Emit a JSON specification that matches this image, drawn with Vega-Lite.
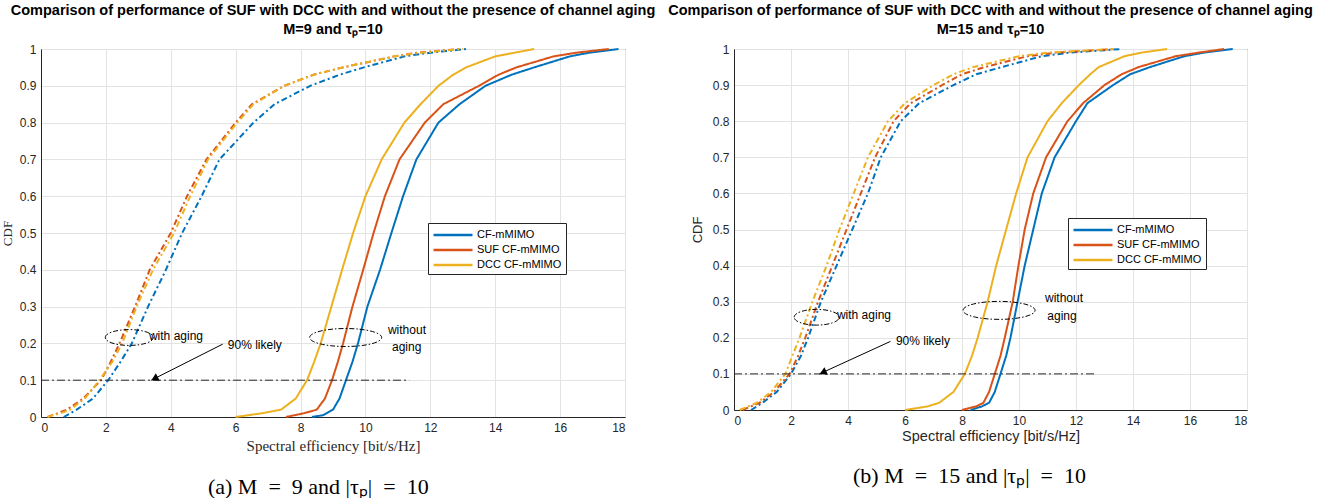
{
"$schema": "https://vega.github.io/schema/vega-lite/v6.json",
"background": "white",
"padding": {"left": 0, "top": 2, "right": 0, "bottom": 0},
"spacing": 11,
"config": {
  "font": "Liberation Sans",
  "view": {"stroke": "#262626", "strokeWidth": 1},
  "axis": {"grid": true, "gridColor": "#e3e3e3", "gridWidth": 1, "domainColor": "#262626", "tickColor": "#262626", "ticks": false, "labelPadding": 5, "labelOverlap": false, "labelColor": "#262626", "labelFont": "Liberation Sans", "labelFontSize": 12, "titleColor": "#262626", "titleFontWeight": "normal", "titleFontSize": 12},
  "legend": {"orient": "none", "title": null, "symbolType": "M-3,0H3", "symbolSize": 169, "symbolOffset": 13, "symbolStrokeWidth": 2.5, "labelFontSize": 11, "labelFont": "Liberation Sans", "labelColor": "#000", "fillColor": "white", "strokeColor": "#262626", "padding": 4, "rowPadding": 2, "labelOffset": 16}
},
"datasets": {
"A": [
{"scheme":"CF-mMIMO","aging":"without","x":8.35,"y":0},{"scheme":"CF-mMIMO","aging":"without","x":8.7,"y":0.005},{"scheme":"CF-mMIMO","aging":"without","x":9.0,"y":0.02},{"scheme":"CF-mMIMO","aging":"without","x":9.2,"y":0.05},{"scheme":"CF-mMIMO","aging":"without","x":9.4,"y":0.1},{"scheme":"CF-mMIMO","aging":"without","x":9.6,"y":0.15},{"scheme":"CF-mMIMO","aging":"without","x":9.77,"y":0.2},{"scheme":"CF-mMIMO","aging":"without","x":10.06,"y":0.3},{"scheme":"CF-mMIMO","aging":"without","x":10.45,"y":0.4},{"scheme":"CF-mMIMO","aging":"without","x":10.8,"y":0.5},{"scheme":"CF-mMIMO","aging":"without","x":11.16,"y":0.6},{"scheme":"CF-mMIMO","aging":"without","x":11.57,"y":0.7},{"scheme":"CF-mMIMO","aging":"without","x":12.25,"y":0.8},{"scheme":"CF-mMIMO","aging":"without","x":12.9,"y":0.85},{"scheme":"CF-mMIMO","aging":"without","x":13.7,"y":0.9},{"scheme":"CF-mMIMO","aging":"without","x":14.5,"y":0.93},{"scheme":"CF-mMIMO","aging":"without","x":15.2,"y":0.95},{"scheme":"CF-mMIMO","aging":"without","x":16.3,"y":0.98},{"scheme":"CF-mMIMO","aging":"without","x":16.9,"y":0.99},{"scheme":"CF-mMIMO","aging":"without","x":17.8,"y":1},
{"scheme":"SUF CF-mMIMO","aging":"without","x":7.55,"y":0},{"scheme":"SUF CF-mMIMO","aging":"without","x":8.1,"y":0.01},{"scheme":"SUF CF-mMIMO","aging":"without","x":8.5,"y":0.02},{"scheme":"SUF CF-mMIMO","aging":"without","x":8.75,"y":0.05},{"scheme":"SUF CF-mMIMO","aging":"without","x":8.97,"y":0.1},{"scheme":"SUF CF-mMIMO","aging":"without","x":9.15,"y":0.15},{"scheme":"SUF CF-mMIMO","aging":"without","x":9.31,"y":0.2},{"scheme":"SUF CF-mMIMO","aging":"without","x":9.6,"y":0.3},{"scheme":"SUF CF-mMIMO","aging":"without","x":9.93,"y":0.4},{"scheme":"SUF CF-mMIMO","aging":"without","x":10.25,"y":0.5},{"scheme":"SUF CF-mMIMO","aging":"without","x":10.6,"y":0.6},{"scheme":"SUF CF-mMIMO","aging":"without","x":11.05,"y":0.7},{"scheme":"SUF CF-mMIMO","aging":"without","x":11.83,"y":0.8},{"scheme":"SUF CF-mMIMO","aging":"without","x":12.4,"y":0.85},{"scheme":"SUF CF-mMIMO","aging":"without","x":13.5,"y":0.9},{"scheme":"SUF CF-mMIMO","aging":"without","x":14.1,"y":0.93},{"scheme":"SUF CF-mMIMO","aging":"without","x":14.65,"y":0.95},{"scheme":"SUF CF-mMIMO","aging":"without","x":15.8,"y":0.98},{"scheme":"SUF CF-mMIMO","aging":"without","x":16.5,"y":0.99},{"scheme":"SUF CF-mMIMO","aging":"without","x":17.5,"y":1},
{"scheme":"DCC CF-mMIMO","aging":"without","x":6.0,"y":0},{"scheme":"DCC CF-mMIMO","aging":"without","x":6.8,"y":0.01},{"scheme":"DCC CF-mMIMO","aging":"without","x":7.4,"y":0.02},{"scheme":"DCC CF-mMIMO","aging":"without","x":7.85,"y":0.05},{"scheme":"DCC CF-mMIMO","aging":"without","x":8.2,"y":0.1},{"scheme":"DCC CF-mMIMO","aging":"without","x":8.42,"y":0.15},{"scheme":"DCC CF-mMIMO","aging":"without","x":8.62,"y":0.2},{"scheme":"DCC CF-mMIMO","aging":"without","x":8.95,"y":0.3},{"scheme":"DCC CF-mMIMO","aging":"without","x":9.28,"y":0.4},{"scheme":"DCC CF-mMIMO","aging":"without","x":9.62,"y":0.5},{"scheme":"DCC CF-mMIMO","aging":"without","x":10.0,"y":0.6},{"scheme":"DCC CF-mMIMO","aging":"without","x":10.5,"y":0.7},{"scheme":"DCC CF-mMIMO","aging":"without","x":11.2,"y":0.8},{"scheme":"DCC CF-mMIMO","aging":"without","x":11.7,"y":0.85},{"scheme":"DCC CF-mMIMO","aging":"without","x":12.25,"y":0.9},{"scheme":"DCC CF-mMIMO","aging":"without","x":12.7,"y":0.93},{"scheme":"DCC CF-mMIMO","aging":"without","x":13.1,"y":0.95},{"scheme":"DCC CF-mMIMO","aging":"without","x":14.0,"y":0.98},{"scheme":"DCC CF-mMIMO","aging":"without","x":14.6,"y":0.99},{"scheme":"DCC CF-mMIMO","aging":"without","x":15.2,"y":1},
{"scheme":"CF-mMIMO","aging":"with","x":0.7,"y":0},{"scheme":"CF-mMIMO","aging":"with","x":0.9,"y":0.01},{"scheme":"CF-mMIMO","aging":"with","x":1.1,"y":0.02},{"scheme":"CF-mMIMO","aging":"with","x":1.6,"y":0.05},{"scheme":"CF-mMIMO","aging":"with","x":2.07,"y":0.1},{"scheme":"CF-mMIMO","aging":"with","x":2.45,"y":0.15},{"scheme":"CF-mMIMO","aging":"with","x":2.8,"y":0.2},{"scheme":"CF-mMIMO","aging":"with","x":3.3,"y":0.3},{"scheme":"CF-mMIMO","aging":"with","x":3.85,"y":0.4},{"scheme":"CF-mMIMO","aging":"with","x":4.35,"y":0.5},{"scheme":"CF-mMIMO","aging":"with","x":4.95,"y":0.6},{"scheme":"CF-mMIMO","aging":"with","x":5.5,"y":0.7},{"scheme":"CF-mMIMO","aging":"with","x":6.55,"y":0.8},{"scheme":"CF-mMIMO","aging":"with","x":7.2,"y":0.85},{"scheme":"CF-mMIMO","aging":"with","x":8.3,"y":0.9},{"scheme":"CF-mMIMO","aging":"with","x":9.2,"y":0.93},{"scheme":"CF-mMIMO","aging":"with","x":9.95,"y":0.95},{"scheme":"CF-mMIMO","aging":"with","x":11.2,"y":0.98},{"scheme":"CF-mMIMO","aging":"with","x":12.0,"y":0.99},{"scheme":"CF-mMIMO","aging":"with","x":13.1,"y":1},
{"scheme":"SUF CF-mMIMO","aging":"with","x":0.2,"y":0},{"scheme":"SUF CF-mMIMO","aging":"with","x":0.5,"y":0.01},{"scheme":"SUF CF-mMIMO","aging":"with","x":0.8,"y":0.02},{"scheme":"SUF CF-mMIMO","aging":"with","x":1.3,"y":0.05},{"scheme":"SUF CF-mMIMO","aging":"with","x":1.85,"y":0.1},{"scheme":"SUF CF-mMIMO","aging":"with","x":2.15,"y":0.15},{"scheme":"SUF CF-mMIMO","aging":"with","x":2.42,"y":0.2},{"scheme":"SUF CF-mMIMO","aging":"with","x":2.9,"y":0.3},{"scheme":"SUF CF-mMIMO","aging":"with","x":3.35,"y":0.4},{"scheme":"SUF CF-mMIMO","aging":"with","x":4.0,"y":0.5},{"scheme":"SUF CF-mMIMO","aging":"with","x":4.5,"y":0.6},{"scheme":"SUF CF-mMIMO","aging":"with","x":5.1,"y":0.7},{"scheme":"SUF CF-mMIMO","aging":"with","x":6.0,"y":0.8},{"scheme":"SUF CF-mMIMO","aging":"with","x":6.5,"y":0.85},{"scheme":"SUF CF-mMIMO","aging":"with","x":7.5,"y":0.9},{"scheme":"SUF CF-mMIMO","aging":"with","x":8.4,"y":0.93},{"scheme":"SUF CF-mMIMO","aging":"with","x":9.3,"y":0.95},{"scheme":"SUF CF-mMIMO","aging":"with","x":10.9,"y":0.98},{"scheme":"SUF CF-mMIMO","aging":"with","x":11.6,"y":0.99},{"scheme":"SUF CF-mMIMO","aging":"with","x":12.9,"y":1},
{"scheme":"DCC CF-mMIMO","aging":"with","x":0.2,"y":0},{"scheme":"DCC CF-mMIMO","aging":"with","x":0.6,"y":0.01},{"scheme":"DCC CF-mMIMO","aging":"with","x":0.9,"y":0.02},{"scheme":"DCC CF-mMIMO","aging":"with","x":1.35,"y":0.05},{"scheme":"DCC CF-mMIMO","aging":"with","x":1.8,"y":0.1},{"scheme":"DCC CF-mMIMO","aging":"with","x":2.2,"y":0.15},{"scheme":"DCC CF-mMIMO","aging":"with","x":2.5,"y":0.2},{"scheme":"DCC CF-mMIMO","aging":"with","x":2.95,"y":0.3},{"scheme":"DCC CF-mMIMO","aging":"with","x":3.45,"y":0.4},{"scheme":"DCC CF-mMIMO","aging":"with","x":4.1,"y":0.5},{"scheme":"DCC CF-mMIMO","aging":"with","x":4.6,"y":0.6},{"scheme":"DCC CF-mMIMO","aging":"with","x":5.15,"y":0.7},{"scheme":"DCC CF-mMIMO","aging":"with","x":6.05,"y":0.8},{"scheme":"DCC CF-mMIMO","aging":"with","x":6.55,"y":0.85},{"scheme":"DCC CF-mMIMO","aging":"with","x":7.5,"y":0.9},{"scheme":"DCC CF-mMIMO","aging":"with","x":8.4,"y":0.93},{"scheme":"DCC CF-mMIMO","aging":"with","x":9.3,"y":0.95},{"scheme":"DCC CF-mMIMO","aging":"with","x":10.9,"y":0.98},{"scheme":"DCC CF-mMIMO","aging":"with","x":11.7,"y":0.99},{"scheme":"DCC CF-mMIMO","aging":"with","x":13.0,"y":1}
],
"B": [
{"scheme":"CF-mMIMO","aging":"without","x":8.3,"y":0},{"scheme":"CF-mMIMO","aging":"without","x":8.7,"y":0.01},{"scheme":"CF-mMIMO","aging":"without","x":8.95,"y":0.02},{"scheme":"CF-mMIMO","aging":"without","x":9.15,"y":0.05},{"scheme":"CF-mMIMO","aging":"without","x":9.35,"y":0.1},{"scheme":"CF-mMIMO","aging":"without","x":9.55,"y":0.15},{"scheme":"CF-mMIMO","aging":"without","x":9.7,"y":0.2},{"scheme":"CF-mMIMO","aging":"without","x":9.95,"y":0.3},{"scheme":"CF-mMIMO","aging":"without","x":10.2,"y":0.4},{"scheme":"CF-mMIMO","aging":"without","x":10.5,"y":0.5},{"scheme":"CF-mMIMO","aging":"without","x":10.8,"y":0.6},{"scheme":"CF-mMIMO","aging":"without","x":11.25,"y":0.7},{"scheme":"CF-mMIMO","aging":"without","x":12.0,"y":0.8},{"scheme":"CF-mMIMO","aging":"without","x":12.4,"y":0.85},{"scheme":"CF-mMIMO","aging":"without","x":13.3,"y":0.9},{"scheme":"CF-mMIMO","aging":"without","x":13.9,"y":0.93},{"scheme":"CF-mMIMO","aging":"without","x":14.6,"y":0.95},{"scheme":"CF-mMIMO","aging":"without","x":15.8,"y":0.98},{"scheme":"CF-mMIMO","aging":"without","x":16.5,"y":0.99},{"scheme":"CF-mMIMO","aging":"without","x":17.5,"y":1},
{"scheme":"SUF CF-mMIMO","aging":"without","x":8.0,"y":0},{"scheme":"SUF CF-mMIMO","aging":"without","x":8.5,"y":0.01},{"scheme":"SUF CF-mMIMO","aging":"without","x":8.75,"y":0.02},{"scheme":"SUF CF-mMIMO","aging":"without","x":8.95,"y":0.05},{"scheme":"SUF CF-mMIMO","aging":"without","x":9.15,"y":0.1},{"scheme":"SUF CF-mMIMO","aging":"without","x":9.35,"y":0.15},{"scheme":"SUF CF-mMIMO","aging":"without","x":9.5,"y":0.2},{"scheme":"SUF CF-mMIMO","aging":"without","x":9.78,"y":0.3},{"scheme":"SUF CF-mMIMO","aging":"without","x":9.98,"y":0.4},{"scheme":"SUF CF-mMIMO","aging":"without","x":10.2,"y":0.5},{"scheme":"SUF CF-mMIMO","aging":"without","x":10.5,"y":0.6},{"scheme":"SUF CF-mMIMO","aging":"without","x":10.95,"y":0.7},{"scheme":"SUF CF-mMIMO","aging":"without","x":11.7,"y":0.8},{"scheme":"SUF CF-mMIMO","aging":"without","x":12.25,"y":0.85},{"scheme":"SUF CF-mMIMO","aging":"without","x":13.0,"y":0.9},{"scheme":"SUF CF-mMIMO","aging":"without","x":13.6,"y":0.93},{"scheme":"SUF CF-mMIMO","aging":"without","x":14.2,"y":0.95},{"scheme":"SUF CF-mMIMO","aging":"without","x":15.5,"y":0.98},{"scheme":"SUF CF-mMIMO","aging":"without","x":16.3,"y":0.99},{"scheme":"SUF CF-mMIMO","aging":"without","x":17.2,"y":1},
{"scheme":"DCC CF-mMIMO","aging":"without","x":6.0,"y":0},{"scheme":"DCC CF-mMIMO","aging":"without","x":6.8,"y":0.01},{"scheme":"DCC CF-mMIMO","aging":"without","x":7.2,"y":0.02},{"scheme":"DCC CF-mMIMO","aging":"without","x":7.7,"y":0.05},{"scheme":"DCC CF-mMIMO","aging":"without","x":8.1,"y":0.1},{"scheme":"DCC CF-mMIMO","aging":"without","x":8.35,"y":0.15},{"scheme":"DCC CF-mMIMO","aging":"without","x":8.55,"y":0.2},{"scheme":"DCC CF-mMIMO","aging":"without","x":8.9,"y":0.3},{"scheme":"DCC CF-mMIMO","aging":"without","x":9.2,"y":0.4},{"scheme":"DCC CF-mMIMO","aging":"without","x":9.55,"y":0.5},{"scheme":"DCC CF-mMIMO","aging":"without","x":9.9,"y":0.6},{"scheme":"DCC CF-mMIMO","aging":"without","x":10.3,"y":0.7},{"scheme":"DCC CF-mMIMO","aging":"without","x":11.0,"y":0.8},{"scheme":"DCC CF-mMIMO","aging":"without","x":11.5,"y":0.85},{"scheme":"DCC CF-mMIMO","aging":"without","x":12.1,"y":0.9},{"scheme":"DCC CF-mMIMO","aging":"without","x":12.5,"y":0.93},{"scheme":"DCC CF-mMIMO","aging":"without","x":12.8,"y":0.95},{"scheme":"DCC CF-mMIMO","aging":"without","x":13.7,"y":0.98},{"scheme":"DCC CF-mMIMO","aging":"without","x":14.3,"y":0.99},{"scheme":"DCC CF-mMIMO","aging":"without","x":15.2,"y":1},
{"scheme":"CF-mMIMO","aging":"with","x":0.6,"y":0},{"scheme":"CF-mMIMO","aging":"with","x":0.8,"y":0.01},{"scheme":"CF-mMIMO","aging":"with","x":1.0,"y":0.02},{"scheme":"CF-mMIMO","aging":"with","x":1.5,"y":0.05},{"scheme":"CF-mMIMO","aging":"with","x":2.0,"y":0.1},{"scheme":"CF-mMIMO","aging":"with","x":2.35,"y":0.15},{"scheme":"CF-mMIMO","aging":"with","x":2.6,"y":0.2},{"scheme":"CF-mMIMO","aging":"with","x":3.05,"y":0.3},{"scheme":"CF-mMIMO","aging":"with","x":3.6,"y":0.4},{"scheme":"CF-mMIMO","aging":"with","x":4.15,"y":0.5},{"scheme":"CF-mMIMO","aging":"with","x":4.7,"y":0.6},{"scheme":"CF-mMIMO","aging":"with","x":5.15,"y":0.7},{"scheme":"CF-mMIMO","aging":"with","x":5.85,"y":0.8},{"scheme":"CF-mMIMO","aging":"with","x":6.5,"y":0.85},{"scheme":"CF-mMIMO","aging":"with","x":7.7,"y":0.9},{"scheme":"CF-mMIMO","aging":"with","x":8.5,"y":0.93},{"scheme":"CF-mMIMO","aging":"with","x":9.4,"y":0.95},{"scheme":"CF-mMIMO","aging":"with","x":10.8,"y":0.98},{"scheme":"CF-mMIMO","aging":"with","x":11.8,"y":0.99},{"scheme":"CF-mMIMO","aging":"with","x":13.6,"y":1},
{"scheme":"SUF CF-mMIMO","aging":"with","x":0.3,"y":0},{"scheme":"SUF CF-mMIMO","aging":"with","x":0.6,"y":0.01},{"scheme":"SUF CF-mMIMO","aging":"with","x":0.9,"y":0.02},{"scheme":"SUF CF-mMIMO","aging":"with","x":1.4,"y":0.05},{"scheme":"SUF CF-mMIMO","aging":"with","x":1.95,"y":0.1},{"scheme":"SUF CF-mMIMO","aging":"with","x":2.25,"y":0.15},{"scheme":"SUF CF-mMIMO","aging":"with","x":2.5,"y":0.2},{"scheme":"SUF CF-mMIMO","aging":"with","x":2.95,"y":0.3},{"scheme":"SUF CF-mMIMO","aging":"with","x":3.45,"y":0.4},{"scheme":"SUF CF-mMIMO","aging":"with","x":3.95,"y":0.5},{"scheme":"SUF CF-mMIMO","aging":"with","x":4.45,"y":0.6},{"scheme":"SUF CF-mMIMO","aging":"with","x":4.95,"y":0.7},{"scheme":"SUF CF-mMIMO","aging":"with","x":5.6,"y":0.8},{"scheme":"SUF CF-mMIMO","aging":"with","x":6.2,"y":0.85},{"scheme":"SUF CF-mMIMO","aging":"with","x":7.3,"y":0.9},{"scheme":"SUF CF-mMIMO","aging":"with","x":8.0,"y":0.93},{"scheme":"SUF CF-mMIMO","aging":"with","x":8.8,"y":0.95},{"scheme":"SUF CF-mMIMO","aging":"with","x":10.3,"y":0.98},{"scheme":"SUF CF-mMIMO","aging":"with","x":11.3,"y":0.99},{"scheme":"SUF CF-mMIMO","aging":"with","x":13.4,"y":1},
{"scheme":"DCC CF-mMIMO","aging":"with","x":0.2,"y":0},{"scheme":"DCC CF-mMIMO","aging":"with","x":0.5,"y":0.01},{"scheme":"DCC CF-mMIMO","aging":"with","x":0.8,"y":0.02},{"scheme":"DCC CF-mMIMO","aging":"with","x":1.3,"y":0.05},{"scheme":"DCC CF-mMIMO","aging":"with","x":1.8,"y":0.1},{"scheme":"DCC CF-mMIMO","aging":"with","x":2.05,"y":0.15},{"scheme":"DCC CF-mMIMO","aging":"with","x":2.3,"y":0.2},{"scheme":"DCC CF-mMIMO","aging":"with","x":2.75,"y":0.3},{"scheme":"DCC CF-mMIMO","aging":"with","x":3.25,"y":0.4},{"scheme":"DCC CF-mMIMO","aging":"with","x":3.7,"y":0.5},{"scheme":"DCC CF-mMIMO","aging":"with","x":4.2,"y":0.6},{"scheme":"DCC CF-mMIMO","aging":"with","x":4.7,"y":0.7},{"scheme":"DCC CF-mMIMO","aging":"with","x":5.4,"y":0.8},{"scheme":"DCC CF-mMIMO","aging":"with","x":6.0,"y":0.85},{"scheme":"DCC CF-mMIMO","aging":"with","x":7.0,"y":0.9},{"scheme":"DCC CF-mMIMO","aging":"with","x":7.7,"y":0.93},{"scheme":"DCC CF-mMIMO","aging":"with","x":8.4,"y":0.95},{"scheme":"DCC CF-mMIMO","aging":"with","x":10.0,"y":0.98},{"scheme":"DCC CF-mMIMO","aging":"with","x":11.0,"y":0.99},{"scheme":"DCC CF-mMIMO","aging":"with","x":13.3,"y":1}
]
},
"resolve": {"scale": {"x": "independent", "y": "independent", "color": "independent", "strokeDash": "independent"}, "legend": {"color": "independent"}},
"hconcat": [
{
  "title": {"text": "(a) M\u2002=\u20029 and |τₚ|\u2002=\u200210", "orient": "bottom", "font": "Liberation Serif", "fontSize": 22, "fontWeight": "normal", "color": "#000", "offset": 23, "anchor": "middle", "dx": -10},
  "resolve": {"scale": {"color": "independent", "strokeDash": "independent"}, "legend": {"color": "independent"}},
  "vconcat": [
  {
    "width": 584, "height": 368,
    "title": {"text": ["Comparison of performance of SUF with DCC with and without the presence of channel aging", "M=9 and τₚ=10"], "font": "Liberation Sans", "fontSize": 14.5, "fontWeight": "bold", "color": "#000", "lineHeight": 19, "offset": 6, "anchor": "middle"},
    "encoding": {
      "x": {"field": "x", "type": "quantitative", "scale": {"domain": [0, 18], "nice": false}, "axis": {"values": [0,2,4,6,8,10,12,14,16,18], "title": "Spectral efficiency [bit/s/Hz]", "titleFont": "Liberation Serif", "titleFontSize": 15, "titlePadding": 5}},
      "y": {"field": "y", "type": "quantitative", "scale": {"domain": [0, 1], "nice": false}, "axis": {"values": [0,0.1,0.2,0.3,0.4,0.5,0.6,0.7,0.8,0.9,1], "labelOverlap": false, "labelSeparation": 0, "format": "~g", "title": "CDF", "titleFont": "Liberation Serif", "titleFontSize": 13, "titlePadding": 5}}
    },
    "layer": [
      {
        "data": {"name": "A"},
        "mark": {"type": "line", "strokeWidth": 2, "interpolate": "linear"},
        "encoding": {
          "color": {"field": "scheme", "type": "nominal", "scale": {"domain": ["CF-mMIMO", "SUF CF-mMIMO", "DCC CF-mMIMO"], "range": ["#0072BD", "#D95319", "#EDB120"]}, "legend": {"legendX": 387, "legendY": 174}},
          "strokeDash": {"field": "aging", "type": "nominal", "scale": {"domain": ["without", "with"], "range": [[1, 0], [6, 3, 2, 3]]}, "legend": null}
        }
      },
      {
        "data": {"values": [{"x": 0, "x2": 11.35, "y": 0.1}]},
        "mark": {"type": "rule", "color": "#262626", "strokeWidth": 1, "strokeDash": [8, 3, 2, 3]},
        "encoding": {"x2": {"field": "x2"}}
      },
      {
        "data": {"values": [{"x": 2.72, "y": 0.216}]},
        "mark": {"type": "point", "shape": "M-1,0A1,0.33,0,1,1,1,0A1,0.33,0,1,1,-1,0Z", "size": 2304, "filled": false, "stroke": "#000", "strokeWidth": 1, "strokeDash": [5, 2, 1.5, 2], "opacity": 1},
        "encoding": {}
      },
      {
        "data": {"values": [{"x": 9.39, "y": 0.216}]},
        "mark": {"type": "point", "shape": "M-1,0A1,0.25,0,1,1,1,0A1,0.25,0,1,1,-1,0Z", "size": 5184, "filled": false, "stroke": "#000", "strokeWidth": 1, "strokeDash": [5, 2, 1.5, 2], "opacity": 1},
        "encoding": {}
      },
      {
        "data": {"values": [{"x": 5.6, "y": 0.198, "x2": 3.4, "y2": 0.1}]},
        "mark": {"type": "rule", "color": "#000", "strokeWidth": 1},
        "encoding": {"x2": {"field": "x2"}, "y2": {"field": "y2"}}
      },
      {
        "data": {"values": [{"x": 3.5, "y": 0.104}]},
        "mark": {"type": "point", "shape": "triangle-left", "size": 70, "filled": true, "color": "#000", "opacity": 1, "angle": 333},
        "encoding": {}
      },
      {
        "data": {"values": [{"x": 4.16, "y": 0.219, "label": "with aging"}, {"x": 6.59, "y": 0.197, "label": "90% likely"}, {"x": 11.28, "y": 0.236, "label": "without"}, {"x": 11.27, "y": 0.189, "label": "aging"}]},
        "mark": {"type": "text", "font": "Liberation Sans", "fontSize": 12, "color": "#000", "align": "center", "baseline": "middle"},
        "encoding": {"text": {"field": "label"}}
      }
    ]
  }
  ]
},
{
  "title": {"text": "(b) M\u2002=\u200215 and |τₚ|\u2002=\u200210", "orient": "bottom", "font": "Liberation Serif", "fontSize": 22, "fontWeight": "normal", "color": "#000", "offset": 23, "anchor": "middle", "dx": -21},
  "resolve": {"scale": {"color": "independent", "strokeDash": "independent"}, "legend": {"color": "independent"}},
  "vconcat": [
  {
    "width": 513, "height": 361,
    "title": {"text": ["Comparison of performance of SUF with DCC with and without the presence of channel aging", "M=15 and τₚ=10"], "font": "Liberation Sans", "fontSize": 14.5, "fontWeight": "bold", "color": "#000", "lineHeight": 19, "offset": 6, "anchor": "middle"},
    "encoding": {
      "x": {"field": "x", "type": "quantitative", "scale": {"domain": [0, 18], "nice": false}, "axis": {"values": [0,2,4,6,8,10,12,14,16,18], "title": "Spectral efficiency [bit/s/Hz]", "titleFont": "Liberation Sans", "titleFontSize": 14.5, "titlePadding": 3}},
      "y": {"field": "y", "type": "quantitative", "scale": {"domain": [0, 1], "nice": false}, "axis": {"values": [0,0.1,0.2,0.3,0.4,0.5,0.6,0.7,0.8,0.9,1], "labelOverlap": false, "labelSeparation": 0, "format": "~g", "title": "CDF", "titleFont": "Liberation Sans", "titleFontSize": 13, "titlePadding": 8}}
    },
    "layer": [
      {
        "data": {"name": "B"},
        "mark": {"type": "line", "strokeWidth": 2, "interpolate": "linear"},
        "encoding": {
          "color": {"field": "scheme", "type": "nominal", "scale": {"domain": ["CF-mMIMO", "SUF CF-mMIMO", "DCC CF-mMIMO"], "range": ["#0072BD", "#D95319", "#EDB120"]}, "legend": {"legendX": 334, "legendY": 169}},
          "strokeDash": {"field": "aging", "type": "nominal", "scale": {"domain": ["without", "with"], "range": [[1, 0], [6, 3, 2, 3]]}, "legend": null}
        }
      },
      {
        "data": {"values": [{"x": 0, "x2": 12.65, "y": 0.1}]},
        "mark": {"type": "rule", "color": "#262626", "strokeWidth": 1, "strokeDash": [8, 3, 2, 3]},
        "encoding": {"x2": {"field": "x2"}}
      },
      {
        "data": {"values": [{"x": 2.9, "y": 0.257}]},
        "mark": {"type": "point", "shape": "M-1,0A1,0.35,0,1,1,1,0A1,0.35,0,1,1,-1,0Z", "size": 2025, "filled": false, "stroke": "#000", "strokeWidth": 1, "strokeDash": [5, 2, 1.5, 2], "opacity": 1},
        "encoding": {}
      },
      {
        "data": {"values": [{"x": 9.3, "y": 0.276}]},
        "mark": {"type": "point", "shape": "M-1,0A1,0.25,0,1,1,1,0A1,0.25,0,1,1,-1,0Z", "size": 5184, "filled": false, "stroke": "#000", "strokeWidth": 1, "strokeDash": [5, 2, 1.5, 2], "opacity": 1},
        "encoding": {}
      },
      {
        "data": {"values": [{"x": 5.49, "y": 0.19, "x2": 3.0, "y2": 0.1}]},
        "mark": {"type": "rule", "color": "#000", "strokeWidth": 1},
        "encoding": {"x2": {"field": "x2"}, "y2": {"field": "y2"}}
      },
      {
        "data": {"values": [{"x": 3.12, "y": 0.104}]},
        "mark": {"type": "point", "shape": "triangle-left", "size": 70, "filled": true, "color": "#000", "opacity": 1, "angle": 335},
        "encoding": {}
      },
      {
        "data": {"values": [{"x": 4.56, "y": 0.262, "label": "with aging"}, {"x": 6.63, "y": 0.19, "label": "90% likely"}, {"x": 11.58, "y": 0.309, "label": "without"}, {"x": 11.51, "y": 0.26, "label": "aging"}]},
        "mark": {"type": "text", "font": "Liberation Sans", "fontSize": 12, "color": "#000", "align": "center", "baseline": "middle"},
        "encoding": {"text": {"field": "label"}}
      }
    ]
  }
  ]
}
]
}
